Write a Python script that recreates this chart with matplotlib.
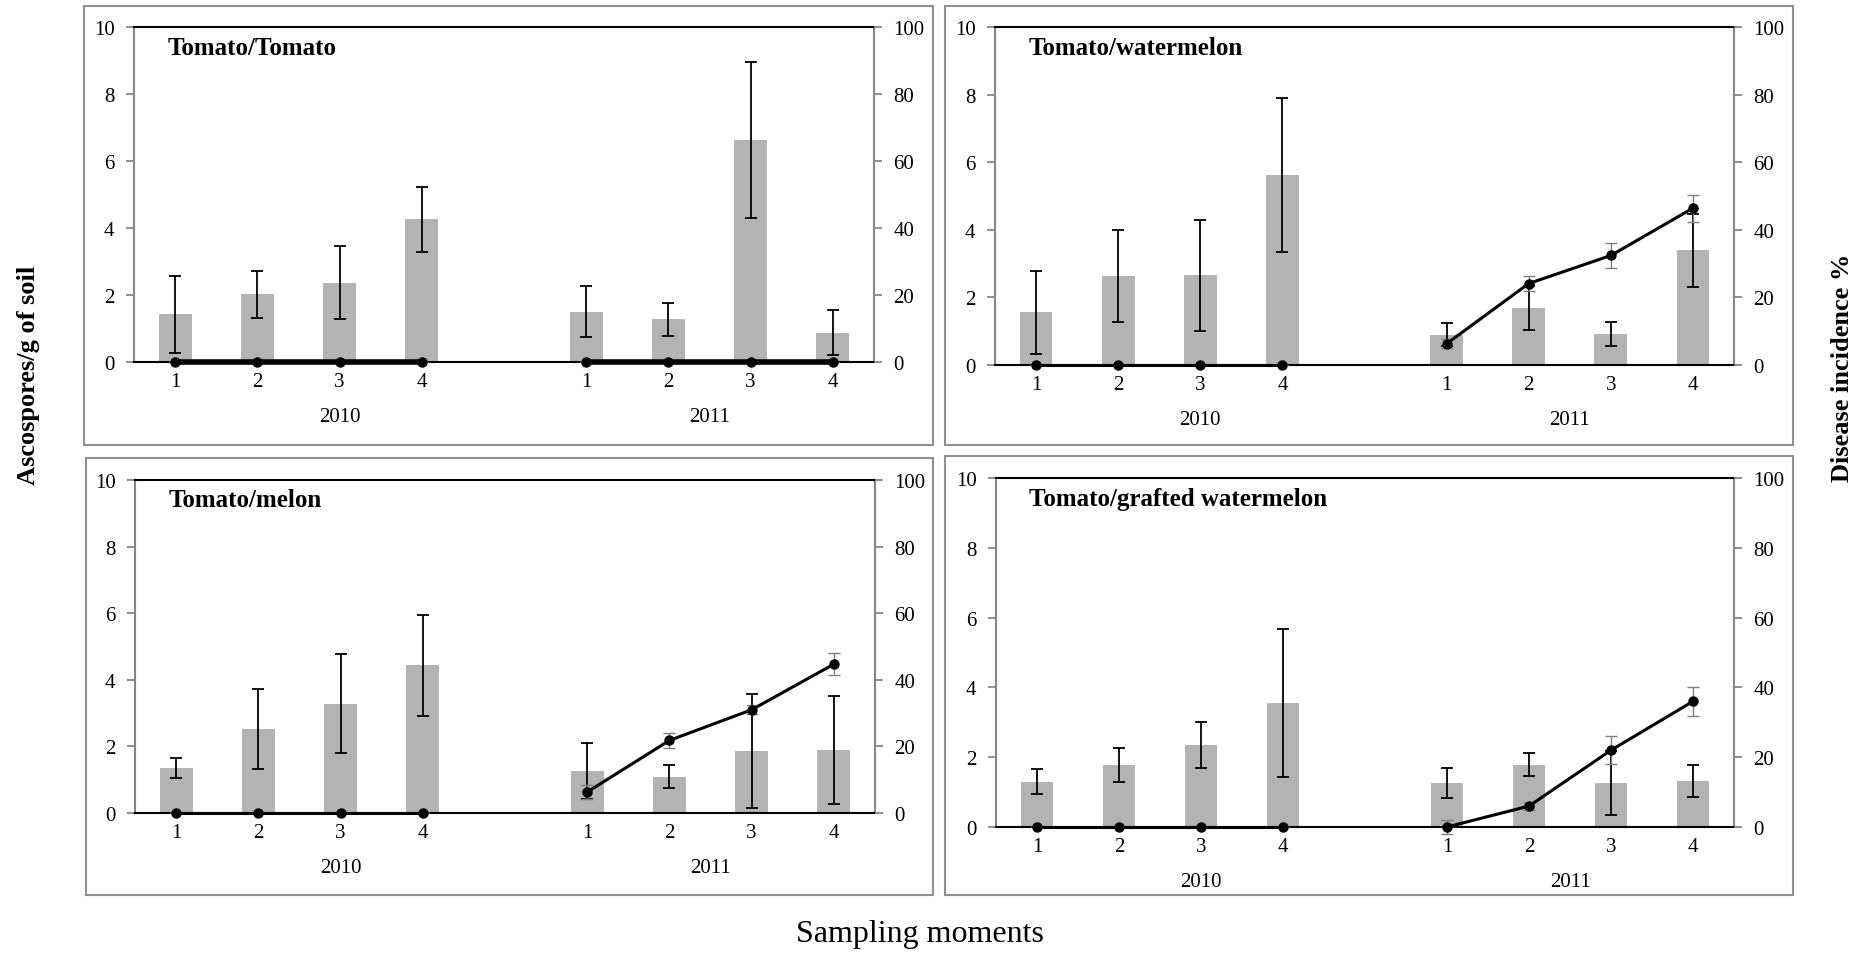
import matplotlib
matplotlib.use('Agg')

import numpy as np
import matplotlib.pyplot as plt

plt.rcParams['font.family'] = ['Liberation Serif', 'DejaVu Serif']

# sampling moments (2010: 1-4, 2011: 1-4)
moments = ['1', '2', '3', '4', '1', '2', '3', '4']
years = ['2010', '2011']

# ascospores/g of soil (bars) and disease incidence % (line), per rotation
tt_spores = [1.42, 2.02, 2.36, 4.26, 1.50, 1.27, 6.64, 0.87]
tt_spores_err = [1.15, 0.71, 1.09, 0.97, 0.76, 0.50, 2.33, 0.67]
tt_incid = [0, 0, 0, 0, 0, 0, 0, 0]
tt_incid_err = [0, 0, 0, 0, 0, 0, 0, 0]

tw_spores = [1.56, 2.63, 2.65, 5.62, 0.90, 1.68, 0.92, 3.39]
tw_spores_err = [1.22, 1.36, 1.63, 2.29, 0.35, 0.65, 0.36, 1.08]
tw_incid = [0, 0, 0, 0, 6.3, 24.1, 32.4, 46.4]
tw_incid_err = [0, 0, 0, 0, 1.4, 2.3, 3.8, 4.0]

tm_spores = [1.36, 2.51, 3.28, 4.44, 1.26, 1.09, 1.87, 1.88]
tm_spores_err = [0.30, 1.20, 1.49, 1.52, 0.85, 0.35, 1.71, 1.62]
tm_incid = [0, 0, 0, 0, 6.3, 21.8, 31.0, 44.7]
tm_incid_err = [0, 0, 0, 0, 2.0, 2.2, 1.3, 3.3]

tg_spores = [1.30, 1.78, 2.35, 3.54, 1.25, 1.78, 1.25, 1.33]
tg_spores_err = [0.35, 0.48, 0.65, 2.12, 0.43, 0.33, 0.92, 0.46]
tg_incid = [0, 0, 0, 0, 0, 6.0, 22.0, 36.0]
tg_incid_err = [0, 0, 0, 0, 2.0, 1.0, 4.0, 4.2]

W, H = 1869, 954
fig = plt.figure(figsize=(W / 100, H / 100), dpi=100)

GRAY = '#868686'
BAR = '#b3b3b3'

# category slots: 2010 -> 0..3, empty slot 4, 2011 -> 5..8
xpos = np.array([0, 1, 2, 3, 5, 6, 7, 8])


def panel(box, area, title, spores, spores_err, incid, incid_err, line_w):
    # outer frame of the panel
    bx0, by0, bx1, by1 = box
    fig.add_artist(plt.Rectangle((bx0 / W, 1 - by1 / H), (bx1 - bx0) / W, (by1 - by0) / H,
                                 transform=fig.transFigure, fill=False,
                                 edgecolor='#909090', lw=1.5))
    x0, y0, x1, y1 = area
    ax = fig.add_axes([x0 / W, 1 - y1 / H, (x1 - x0) / W, (y1 - y0) / H])
    ax.bar(xpos, spores, width=0.4, color=BAR, zorder=2)
    ax.errorbar(xpos, spores, yerr=spores_err, fmt='none', ecolor='black',
                elinewidth=1.3, capsize=4, capthick=1.3, zorder=3)
    ax.set_xlim(-0.5, 8.5)
    ax.set_ylim(0, 10)
    ax.set_yticks([0, 2, 4, 6, 8, 10])
    ax.set_xticks(xpos)
    ax.set_xticklabels(moments)
    ax.tick_params(axis='x', length=0, pad=7, labelsize=15)
    ax.tick_params(axis='y', length=6, width=1.3, color=GRAY, pad=8, labelsize=15)
    for s in ['left', 'right']:
        ax.spines[s].set_color(GRAY)
        ax.spines[s].set_linewidth(1.5)
    ax.spines['top'].set_color('black')
    ax.spines['top'].set_linewidth(1.5)
    ax.spines['bottom'].set_color('black')
    ax.spines['bottom'].set_linewidth(1.5)

    for label, xc in zip(years, [2, 6.5]):
        ax.annotate(label, xy=(xc, 0), xycoords=('data', 'axes fraction'),
                    xytext=(0, -39), textcoords='offset points',
                    ha='center', va='center', fontsize=15)

    ax.text(0.045, 0.94, title, transform=ax.transAxes, fontsize=18,
            fontweight='bold', va='center', ha='left')

    ax2 = ax.twinx()
    ax2.set_ylim(0, 100)
    ax2.set_yticks([0, 20, 40, 60, 80, 100])
    ax2.tick_params(axis='y', length=6, width=1.3, color=GRAY, pad=8, labelsize=15)
    for s in ax2.spines.values():
        s.set_visible(False)
    for sl in [slice(0, 4), slice(4, 8)]:
        ax2.errorbar(xpos[sl], incid[sl], yerr=incid_err[sl], fmt='none',
                     ecolor='#7f7f7f', elinewidth=1.0, capsize=4, capthick=1.0,
                     zorder=3, clip_on=False)
        ax2.plot(xpos[sl], incid[sl], color='black', lw=line_w, marker='o',
                 markersize=6.5, zorder=4, clip_on=False)
    return ax


panel((84, 7, 933, 446), (134, 28, 874, 363), 'Tomato/Tomato',
      tt_spores, tt_spores_err, tt_incid, tt_incid_err, 4)
panel((945, 7, 1793, 446), (995, 28, 1734, 366), 'Tomato/watermelon',
      tw_spores, tw_spores_err, tw_incid, tw_incid_err, 2.2)
panel((86, 459, 933, 896), (135, 481, 875, 814), 'Tomato/melon',
      tm_spores, tm_spores_err, tm_incid, tm_incid_err, 2.2)
panel((945, 457, 1793, 896), (996, 479, 1734, 828), 'Tomato/grafted watermelon',
      tg_spores, tg_spores_err, tg_incid, tg_incid_err, 2.2)

fig.text(28 / W, 1 - 375 / H, 'Ascospores/g of soil', rotation=90, fontsize=19,
         fontweight='bold', ha='center', va='center')
fig.text(1842 / W, 1 - 368 / H, 'Disease incidence %', rotation=90, fontsize=19,
         fontweight='bold', ha='center', va='center')
fig.text(920 / W, 1 - 935 / H, 'Sampling moments', fontsize=23,
         ha='center', va='center')

plt.savefig('out.png', dpi=100)
